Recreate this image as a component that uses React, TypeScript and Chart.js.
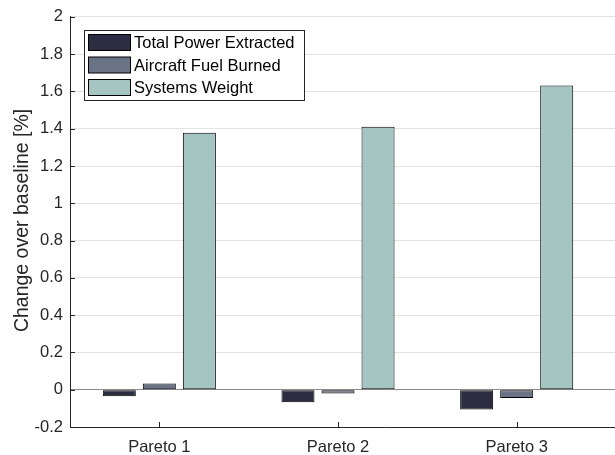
import { useEffect, useRef } from 'react';
import { Chart, registerables } from 'chart.js';

Chart.register(...registerables);

const categories = ['Pareto 1', 'Pareto 2', 'Pareto 3'];
const seriesNames = ['Total Power Extracted', 'Aircraft Fuel Burned', 'Systems Weight'];
const totalPowerExtracted = [-0.035, -0.067, -0.106];
const aircraftFuelBurned = [0.033, -0.02, -0.044];
const systemsWeight = [1.379, 1.411, 1.632];
const seriesColors = ['#2c2d41', '#6b7386', '#a5c5c2'];
const yTicks = [-0.2, 0, 0.2, 0.4, 0.6, 0.8, 1, 1.2, 1.4, 1.6, 1.8, 2];
const yTitle = 'Change over baseline [%]';

const FONT = '"Liberation Sans", Arial, Helvetica, sans-serif';
const AXIS = '#262626';

const innerTicks = {
  id: 'innerTicks',
  afterDraw(chart: any) {
    const ctx = chart.ctx;
    const { left, bottom, top } = chart.chartArea;
    const ys = chart.scales.y;
    const xs = chart.scales.x;
    ctx.save();
    ctx.strokeStyle = AXIS;
    ctx.lineWidth = 1;
    ctx.beginPath();
    ys.ticks.forEach((t: any) => {
      const py = Math.round(ys.getPixelForValue(t.value)) + 0.5;
      ctx.moveTo(left, py);
      ctx.lineTo(left + 5, py);
    });
    xs.ticks.forEach((t: any) => {
      const px = Math.round(xs.getPixelForValue(t.value)) + 0.5;
      ctx.moveTo(px, bottom);
      ctx.lineTo(px, bottom - 5);
    });
    ctx.stroke();
    // y title
    ctx.fillStyle = AXIS;
    ctx.font = `19.5px ${FONT}`;
    ctx.textAlign = 'center';
    ctx.textBaseline = 'alphabetic';
    ctx.translate(28, (top + bottom) / 2 - 1.5);
    ctx.rotate(-Math.PI / 2);
    ctx.fillText(yTitle, 0, 0);
    ctx.restore();
  },
};

const boxLegend = {
  id: 'boxLegend',
  afterDraw(chart: any) {
    const ctx = chart.ctx;
    const x0 = 84.5, y0 = 30.5, w = 220, h = 70;
    ctx.save();
    ctx.fillStyle = '#ffffff';
    ctx.fillRect(x0, y0, w, h);
    ctx.strokeStyle = AXIS;
    ctx.lineWidth = 1;
    ctx.strokeRect(x0, y0, w, h);
    ctx.font = `16.5px ${FONT}`;
    ctx.textBaseline = 'middle';
    ctx.textAlign = 'left';
    chart.data.datasets.forEach((ds: any, i: number) => {
      const cy = 42.5 + i * 22.5;
      ctx.fillStyle = ds.backgroundColor;
      ctx.fillRect(88.5, cy - 8, 42, 16);
      ctx.strokeStyle = '#000000';
      ctx.strokeRect(88.5, cy - 8, 42, 16);
      ctx.fillStyle = '#000000';
      ctx.fillText(ds.label, 134, cy + 1);
    });
    ctx.restore();
  },
};

export default function App() {
  const ref = useRef<HTMLCanvasElement | null>(null);

  useEffect(() => {
    if (!ref.current) return;
    const seriesValues = [totalPowerExtracted, aircraftFuelBurned, systemsWeight];
    const chart = new Chart(ref.current, {
      type: 'bar',
      data: {
        datasets: seriesValues.map((vals, si) => ({
          label: seriesNames[si],
          data: categories.map((_, i) => ({ x: i + 1, y: vals[i] })),
          backgroundColor: seriesColors[si],
          borderColor: '#000000',
          borderWidth: 1,
          borderSkipped: false,
          categoryPercentage: 0.672,
          barPercentage: 0.825,
        })),
      },
      options: {
        animation: false,
        responsive: true,
        maintainAspectRatio: false,
        layout: { padding: { top: 15, right: 0, left: 0, bottom: 0 } },
        plugins: {
          legend: { display: false },
          tooltip: { enabled: false },
        },
        scales: {
          x: {
            type: 'linear',
            offset: false,
            min: 0.5,
            max: 4.026,
            afterBuildTicks: (scale: any) => {
              scale.ticks = categories.map((_, i) => ({ value: i + 1 }));
            },
            afterFit: (scale: any) => {
              scale.height = 28;
            },
            grid: { display: false, drawTicks: false, offset: false },
            border: { display: true, color: AXIS, width: 1 },
            ticks: {
              color: AXIS,
              font: { family: FONT, size: 16.5 },
              padding: 11,
              autoSkip: false,
              maxRotation: 0,
              callback: (v: any) => categories[Math.round(Number(v)) - 1] ?? '',
            },
          },
          y: {
            min: -0.2,
            max: 2,
            afterBuildTicks: (scale: any) => {
              scale.ticks = yTicks.map((v) => ({ value: v }));
            },
            afterFit: (scale: any) => {
              scale.width = 70;
            },
            grid: {
              drawTicks: false,
              color: (c: any) => (c.tick && Math.abs(c.tick.value) < 1e-9 ? '#8a8a8a' : '#e3e3e3'),
              lineWidth: 1,
            },
            border: { display: true, color: AXIS, width: 1 },
            ticks: {
              color: AXIS,
              font: { family: FONT, size: 16.5 },
              padding: 7,
              autoSkip: false,
              callback: (v: any) => String(Number(Number(v).toFixed(1))),
            },
            title: { display: false },
          },
        },
      },
      plugins: [innerTicks, boxLegend],
    });
    return () => chart.destroy();
  }, []);

  return (
    <div style={{ position: 'absolute', left: 0, top: 0, width: 615, height: 455, overflow: 'hidden', background: '#ffffff' }}>
      <div style={{ position: 'absolute', left: 0, top: 0, width: 700, height: 455 }}>
        <canvas ref={ref} />
      </div>
    </div>
  );
}
